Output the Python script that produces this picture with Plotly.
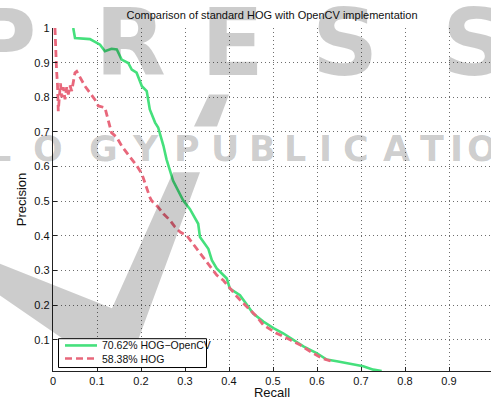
import plotly.graph_objects as go

# ---------------- data ----------------
opencv_recall = [0.046, 0.050, 0.084, 0.107, 0.118, 0.133, 0.145, 0.156, 0.171, 0.179,
                 0.190, 0.202, 0.213, 0.220, 0.232, 0.239, 0.251, 0.258, 0.273, 0.296,
                 0.311, 0.330, 0.334, 0.353, 0.361, 0.372, 0.395, 0.402, 0.425, 0.455,
                 0.478, 0.501, 0.523, 0.546, 0.569, 0.599, 0.622, 0.645, 0.675, 0.705,
                 0.728, 0.747]
opencv_precision = [1.000, 0.971, 0.968, 0.952, 0.933, 0.940, 0.938, 0.909, 0.899, 0.880,
                    0.871, 0.832, 0.818, 0.765, 0.727, 0.713, 0.660, 0.621, 0.559, 0.502,
                    0.478, 0.435, 0.397, 0.363, 0.330, 0.306, 0.277, 0.248, 0.229, 0.176,
                    0.153, 0.134, 0.119, 0.100, 0.081, 0.062, 0.043, 0.038, 0.031, 0.024,
                    0.014, 0.010]

hog_recall = [0.0045, 0.0057, 0.008, 0.0102, 0.012, 0.0148, 0.017, 0.0198, 0.0234, 0.0273,
              0.0311, 0.0348, 0.0386, 0.0425, 0.0443, 0.050, 0.0539, 0.0614, 0.0689, 0.0727,
              0.084, 0.095, 0.103, 0.118, 0.122, 0.133, 0.145, 0.156, 0.167, 0.179,
              0.190, 0.202, 0.213, 0.220, 0.224, 0.239, 0.251, 0.266, 0.277, 0.289,
              0.304, 0.315, 0.327, 0.342, 0.357, 0.372, 0.387, 0.402, 0.418, 0.440,
              0.463, 0.478, 0.508, 0.539, 0.561, 0.584, 0.611, 0.633]
hog_precision = [1.000, 0.946, 0.880, 0.837, 0.760, 0.806, 0.840, 0.800, 0.829, 0.794,
                 0.829, 0.808, 0.834, 0.818, 0.834, 0.871, 0.875, 0.856, 0.837, 0.832,
                 0.813, 0.794, 0.775, 0.770, 0.751, 0.698, 0.684, 0.660, 0.641, 0.622,
                 0.603, 0.579, 0.536, 0.512, 0.502, 0.483, 0.464, 0.445, 0.426, 0.411,
                 0.401, 0.383, 0.363, 0.339, 0.311, 0.287, 0.272, 0.248, 0.225, 0.196,
                 0.167, 0.143, 0.119, 0.100, 0.086, 0.067, 0.047, 0.038]

series_names = ["70.62% HOG\u2212OpenCV", "58.38% HOG"]
series_colors = ["#45e07c", "#e8677b"]
series_dash = ["solid", "7px,4px"]
tick_values = [0, 0.1, 0.2, 0.3, 0.4, 0.5, 0.6, 0.7, 0.8, 0.9, 1]
x_tick_labels = ["0", "0.1", "0.2", "0.3", "0.4", "0.5", "0.6", "0.7", "0.8", "0.9", "1"]
y_tick_labels = ["0", "0.1", "0.2", "0.3", "0.4", "0.5", "0.6", "0.7", "0.8", "0.9", "1"]
title_text = "Comparison of standard HOG with OpenCV implementation"

# ---------------- layout geometry ----------------
W, H = 491, 400
L_M, R_M, T_M, B_M = 53, 0, 28, 27
PW = W - L_M - R_M
PH = H - T_M - B_M
FONT = "Liberation Sans, Arial, Helvetica, sans-serif"
TXT = "#111111"


def px(xp):
    return (xp - L_M) / PW


def py(yp):
    return (H - B_M - yp) / PH


fig = go.Figure()
fig.add_trace(go.Scatter(x=opencv_recall, y=opencv_precision, mode="lines",
                         name=series_names[0],
                         line=dict(color=series_colors[0], width=2.6, dash=series_dash[0])))
fig.add_trace(go.Scatter(x=hog_recall, y=hog_precision, mode="lines",
                         name=series_names[1],
                         line=dict(color=series_colors[1], width=2.8, dash=series_dash[1])))

# ---------------- watermark (semi-transparent overlay) ----------------
WM = "rgba(0,0,0,0.2)"
annotations = []
row1 = [("P", 2), ("R", 130), ("E", 232), ("S", 345), ("S", 475)]
for ch, cx in row1:
    annotations.append(dict(text=ch, x=px(cx), y=py(44), xref="paper", yref="paper",
                            showarrow=False, xanchor="center", yanchor="middle",
                            font=dict(family="DejaVu Sans", size=92, color=WM, weight="bold")))
row2 = [("L", 0), ("O", 48), ("G", 103), ("Y", 145), ("P", 187), ("U", 225), ("B", 262),
        ("L", 295), ("I", 325), ("C", 356), ("A", 396), ("T", 432), ("I", 456),
        ("O", 482), ("N", 525)]
for ch, cx in row2:
    annotations.append(dict(text=ch, x=px(cx), y=py(150), xref="paper", yref="paper",
                            showarrow=False, xanchor="center", yanchor="middle",
                            font=dict(family="DejaVu Sans", size=35, color=WM, weight="bold")))


def path(points):
    return "M " + " L ".join(f"{px(a):.4f},{py(b):.4f}" for a, b in points) + " Z"


shapes = [
    dict(type="path", xref="paper", yref="paper", layer="above", fillcolor=WM,
         line=dict(width=0),
         path=path([(0, 265), (112, 310), (173, 173), (200, 173), (138, 342), (65, 342), (0, 297)])),
    dict(type="path", xref="paper", yref="paper", layer="above", fillcolor=WM,
         line=dict(width=0),
         path=path([(194, 127), (209, 95), (229, 95), (217, 127)])),
]

# ---------------- legend box (MATLAB-style, compact) ----------------
LG_X0, LG_X1, LG_Y0, LG_Y1 = 58.5, 206.5, 340.5, 369.5
shapes.append(dict(type="rect", xref="paper", yref="paper", layer="above",
                   x0=px(LG_X0), x1=px(LG_X1), y0=py(LG_Y1), y1=py(LG_Y0),
                   fillcolor="white", line=dict(color="black", width=1)))
row_y = [347.3, 360.5]
for i in range(2):
    shapes.append(dict(type="line", xref="paper", yref="paper", layer="above",
                       x0=px(65), x1=px(97), y0=py(row_y[i]), y1=py(row_y[i]),
                       line=dict(color=series_colors[i], width=2.6, dash=series_dash[i])))
    annotations.append(dict(text=series_names[i], x=px(100), y=py(row_y[i]),
                            xref="paper", yref="paper", showarrow=False,
                            xanchor="left", yanchor="middle",
                            font=dict(family=FONT, size=10.5, color=TXT)))

axis_common = dict(
    showgrid=True, gridcolor="#6e6e6e", griddash="1px,3px", gridwidth=1,
    showline=True, linecolor="#222222", linewidth=1.4, mirror=False,
    ticks="inside", ticklen=4, tickcolor="#222222", tickwidth=1,
    zeroline=False,
    tickfont=dict(family=FONT, size=11, color=TXT),
)

fig.update_layout(
    width=W, height=H,
    margin=dict(l=L_M, r=R_M, t=T_M, b=B_M, pad=0),
    paper_bgcolor="white", plot_bgcolor="white",
    title=dict(text=title_text, x=0.5, xref="paper", xanchor="center",
               y=1 - 15 / H, yref="container", yanchor="middle",
               font=dict(family=FONT, size=11, color=TXT)),
    xaxis=dict(range=[0, PW / 440.0], tickvals=tick_values, ticktext=x_tick_labels,
               title=dict(text="Recall", standoff=3,
                          font=dict(family=FONT, size=13, color=TXT)),
               **axis_common),
    yaxis=dict(range=[0.0101, 1.0], tickvals=tick_values, ticktext=y_tick_labels,
               title=dict(text="Precision", standoff=4,
                          font=dict(family=FONT, size=13, color=TXT)),
               **axis_common),
    showlegend=False,
    annotations=annotations,
    shapes=shapes,
)

fig.write_html("out.html")
